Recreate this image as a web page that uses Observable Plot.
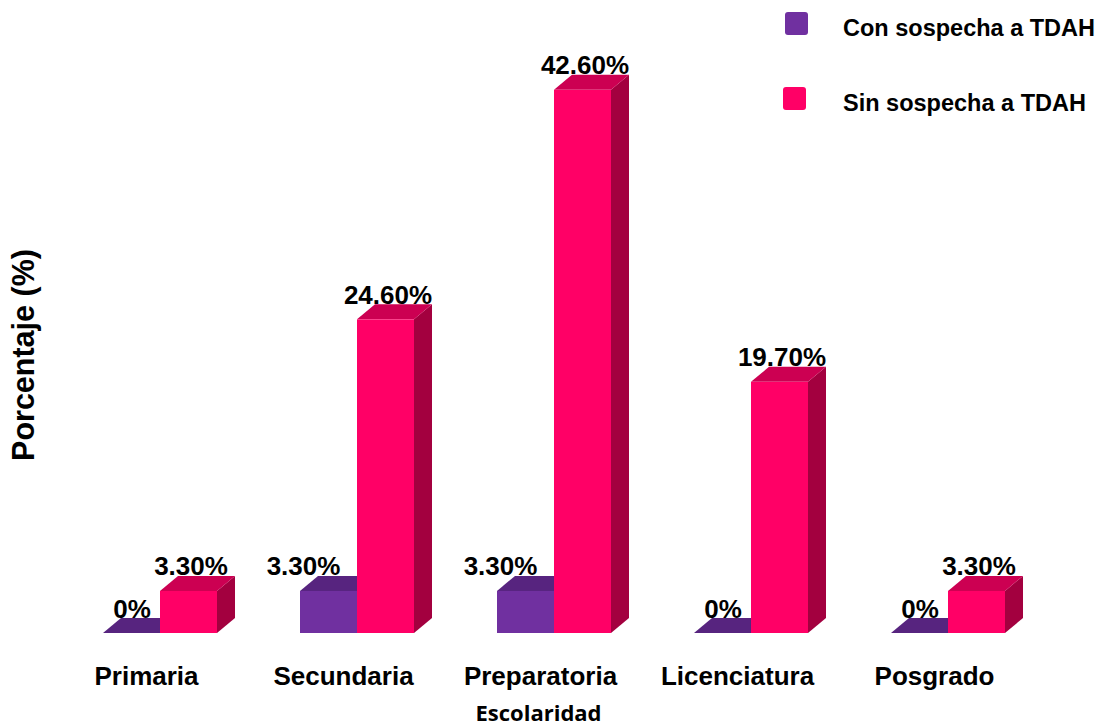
<!DOCTYPE html>
<html>
<head>
<meta charset="utf-8">
<script src="https://cdn.jsdelivr.net/npm/d3@7"></script>
<script src="https://cdn.jsdelivr.net/npm/@observablehq/plot@0.6"></script>
<style>
  html, body { margin: 0; padding: 0; background: #fff; }
  #wrap { position: relative; width: 1105px; height: 727px; font-family: "Liberation Sans", Arial, sans-serif; }
  .legend { position: absolute; left: 783px; font-weight: bold; font-size: 23.5px; color: #000; display: flex; align-items: center; white-space: nowrap; }
  .sw { width: 23px; height: 23px; border-radius: 3px; margin-right: 37px; }
</style>
</head>
<body>
<div id="wrap"></div>
<script>
const categories = ["Primaria", "Secundaria", "Preparatoria", "Licenciatura", "Posgrado"];
const seriesNames = ["Con sospecha a TDAH", "Sin sospecha a TDAH"];
const conValues = [0, 3.3, 3.3, 0, 0];
const sinValues = [3.3, 24.6, 42.6, 19.7, 3.3];
const conLabels = ["0%", "3.30%", "3.30%", "0%", "0%"];
const sinLabels = ["3.30%", "24.60%", "42.60%", "19.70%", "3.30%"];

const conData = categories.map((c, i) => ({category: c, value: conValues[i], label: conLabels[i], series: seriesNames[0]}));
const sinData = categories.map((c, i) => ({category: c, value: sinValues[i], label: sinLabels[i], series: seriesNames[1]}));

const DX = 18, DY = 15;
const FONT = "Liberation Sans, Arial, sans-serif";

function faces(topColor, sideColor) {
  return function(index, scales, values, dimensions, context, next) {
    const g = next(index, scales, values, dimensions, context);
    const rects = Array.from(g.querySelectorAll("rect"));
    for (const r of rects) {
      const x = +r.getAttribute("x"), w = +r.getAttribute("width");
      const y = +r.getAttribute("y"), h = +r.getAttribute("height");
      const yb = y + h;
      const top = document.createElementNS("http://www.w3.org/2000/svg", "polygon");
      top.setAttribute("points", `${x},${y} ${x + DX},${y - DY} ${x + w + DX},${y - DY} ${x + w},${y}`);
      top.setAttribute("fill", topColor);
      const side = document.createElementNS("http://www.w3.org/2000/svg", "polygon");
      side.setAttribute("points", `${x + w},${y} ${x + w + DX},${y - DY} ${x + w + DX},${yb - DY} ${x + w},${yb}`);
      side.setAttribute("fill", sideColor);
      r.parentNode.insertBefore(side, r);
      r.parentNode.insertBefore(top, r);
    }
    return g;
  };
}

const chart = Plot.plot({
  width: 1105,
  height: 727,
  marginLeft: 102,
  marginRight: 99,
  marginTop: 60,
  marginBottom: 94,
  style: {fontFamily: FONT, background: "#fff"},
  x: {domain: categories, paddingInner: 0.4228, paddingOuter: 0, align: 0.5, axis: null},
  y: {domain: [0, 45], range: [633, 633 - 12.75 * 45], axis: null},
  marks: [
    Plot.barY(conData, {x: "category", y: "value", fill: "#7030A0", insetRight: 57, render: faces("#57247F", "#481D6B")}),
    Plot.barY(sinData, {x: "category", y: "value", fill: "#FF0066", insetLeft: 57, render: faces("#CC0052", "#A3003F")}),
    Plot.text(sinData, {x: "category", y: "value", text: "label", dx: 30.5, dy: -DY - 1, lineAnchor: "bottom",
      fontSize: 26, fontWeight: "bold", fill: "#000"}),
    Plot.text(conData.filter(d => d.value === 0), {x: "category", y: "value", text: "label", dx: -28.5, dy: -DY - 1, lineAnchor: "bottom",
      fontSize: 26, fontWeight: "bold", fill: "#000"}),
    Plot.text(conData.filter(d => d.value > 0), {x: "category", y: "value", text: "label", dx: -54, dy: -DY - 1, lineAnchor: "bottom",
      fontSize: 26, fontWeight: "bold", fill: "#000"}),
    Plot.axisX({tickSize: 0, tickPadding: 33, label: null, fontSize: 26, fontWeight: "bold", dx: -14, fill: "#000"}),
    Plot.text(["Escolaridad"], {frameAnchor: "bottom", text: d => d, dx: -16, dy: 87, lineAnchor: "bottom",
      fontSize: 22, fontWeight: "bold", fontFamily: "Open Sans, Noto Sans, sans-serif", fill: "#000"}),
    Plot.text(["Porcentaje (%)"], {frameAnchor: "left", text: d => d, rotate: -90, textAnchor: "middle", dx: -78, dy: 8, lineAnchor: "middle",
      fontSize: 30.5, fontWeight: "bold", fill: "#000"})
  ]
});

const wrap = document.getElementById("wrap");
wrap.appendChild(chart);

const legendColors = ["#7030A0", "#FF0066"];
const legendTops = [10, 85];
seriesNames.forEach((name, i) => {
  const item = document.createElement("div");
  item.className = "legend";
  item.style.top = legendTops[i] + "px";
  item.style.left = (i === 0 ? 785 : 783) + "px";
  const sw = document.createElement("div");
  sw.className = "sw";
  sw.style.background = legendColors[i];
  sw.style.marginRight = (i === 0 ? 35 : 37) + "px";
  const tx = document.createElement("span");
  tx.textContent = name;
  tx.style.position = "relative";
  tx.style.top = "5px";
  item.appendChild(sw);
  item.appendChild(tx);
  wrap.appendChild(item);
});
</script>
</body>
</html>
